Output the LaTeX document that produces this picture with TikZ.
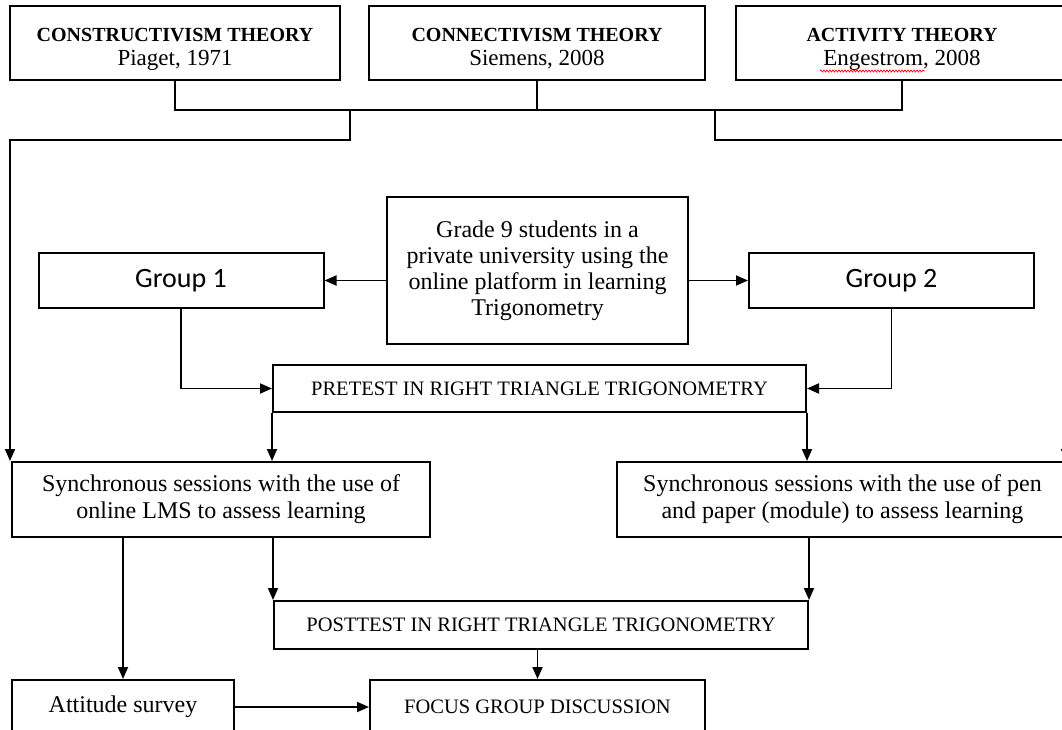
\documentclass[tikz,border=0pt]{standalone}
\usepackage{fontspec}
\setmainfont{Liberation Serif}
\newfontfamily\grpfont{Carlito}
\usepackage{tikz}
\usetikzlibrary{
  arrows.meta,
  positioning,
  calc,
  decorations.pathmorphing,
}
\tikzset{
  box/.style={draw, line width=2pt, inner sep=0pt, align=center},
  theory/.style={box, minimum height=74pt, font=\fontsize{23}{24}\selectfont},
  grp/.style={box, minimum width=285pt, minimum height=55pt,
              font=\grpfont\fontsize{28}{30}\selectfont},
  caps/.style={box, font=\fontsize{20.5}{22}\selectfont},
  sess/.style={box, minimum width=418pt, minimum height=75pt,
               font=\fontsize{24}{27}\selectfont},
  link/.style={line width=1.8pt},
  arr/.style={link, -{Triangle[length=12pt,width=10pt]}},
  spellcheck/.style={red, line width=0.7pt,
                     decorate, decoration={snake, amplitude=1pt, segment length=3pt}},
}

\begin{document}
\begin{tikzpicture}[x=1pt, y=-1pt]
\useasboundingbox (0,0) rectangle (1062,730);
\clip (0,0) rectangle (1062,730);

% theories on top
\node[theory, minimum width=330pt] (constr) at (175,43)
  {\rule{0pt}{25pt}\textbf{\fontsize{20}{24}\selectfont CONSTRUCTIVISM THEORY}\\Piaget, 1971};
\node[theory, minimum width=336pt] (connect) at (537,43)
  {\rule{0pt}{25pt}\textbf{\fontsize{20}{24}\selectfont CONNECTIVISM THEORY}\\Siemens, 2008};
\node[theory, minimum width=332pt] (activity) at (902,43)
  {\rule{0pt}{25pt}\textbf{\fontsize{20}{24}\selectfont ACTIVITY THEORY}\\Engestrom, 2008};
% spell-check squiggle under the name
\draw[spellcheck] ($(activity.center)+(-82,28)$) -- ($(activity.center)+(23,28)$);

% participants and groups
\node[box, minimum width=301pt, minimum height=147pt,
      font=\fontsize{24}{26}\selectfont] (grade) at (537.5,270.5)
  {Grade 9 students in a\\private university using the\\online platform in learning\\Trigonometry};
\node[grp] (grp1) at (181,280.5) {Group 1};
\node[grp] (grp2) at (891.5,280.5) {Group 2};

\node[caps, minimum width=533pt, minimum height=47pt] (pre) at (539.5,388.5)
  {PRETEST IN RIGHT TRIANGLE TRIGONOMETRY};

% sessions
\node[sess] (syn1) at (221,499.5)
  {Synchronous sessions with the use of\\online LMS to assess learning};
\node[sess, minimum width=451pt] (syn2) at (842.5,499.5)
  {Synchronous sessions with the use of pen\\and paper (module) to assess learning};

\node[caps, minimum width=534pt, minimum height=48pt] (post) at (541,625)
  {POSTTEST IN RIGHT TRIANGLE TRIGONOMETRY};

\node[box, minimum width=222pt, minimum height=54pt,
      font=\fontsize{24}{26}\selectfont] (att) at (123,707) {Attitude survey};
\node[caps, minimum width=335pt, minimum height=54pt] (focus) at (537.5,707)
  {FOCUS GROUP DISCUSSION};

% bus under the theories
\coordinate (bus) at (0,110);
\coordinate (tapL) at (350,110);
\coordinate (tapR) at (715,110);
\coordinate (railL) at (10,140);
\coordinate (railR) at (1066,140);
\draw[link] (constr.south) -- (constr.south |- bus) -- (activity.south |- bus) -- (activity.south);
\draw[link] (connect.south) -- (connect.south |- bus);
\draw[arr] (tapL) |- (railL) -- (railL |- syn1.north);
\draw[arr] (tapR) |- (railR) -- (railR |- syn2.north);

% flow
\draw[arr] (grp1.east -| grade.west) -- (grp1.east);
\draw[arr] (grp2.west -| grade.east) -- (grp2.west);
\draw[arr] (grp1.south) |- (pre.west);
\draw[arr] (grp2.south) |- (pre.east);
\draw[arr] (pre.south west) -- (pre.south west |- syn1.north);
\draw[arr] (pre.south east) -- (pre.south east |- syn2.north);
\draw[arr] (post.north west |- syn1.south) -- (post.north west);
\draw[arr] (post.north east |- syn2.south) -- (post.north east);
\draw[arr] (att.north |- syn1.south) -- (att.north);
\draw[arr] (focus.north |- post.south) -- (focus.north);
\draw[arr] (att.east) -- (focus.west);

\end{tikzpicture}
\end{document}
